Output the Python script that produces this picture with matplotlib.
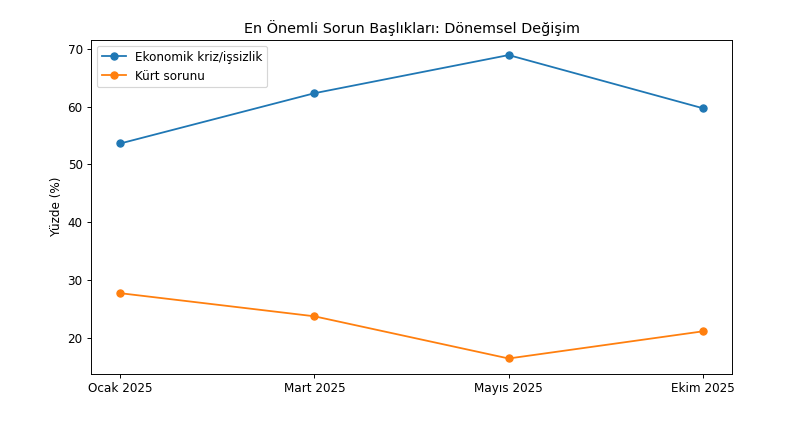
import matplotlib
matplotlib.use("Agg")
import matplotlib.pyplot as plt

donemler = ["Ocak 2025", "Mart 2025", "Mayıs 2025", "Ekim 2025"]
ekonomik = [53.6, 62.3, 68.9, 59.7]
kurt = [27.7, 23.7, 16.4, 21.1]

fig, ax = plt.subplots(figsize=(785 / 86, 429 / 86), dpi=86)
fig.subplots_adjust(left=0.116, right=0.9325, top=0.907, bottom=0.129)

ax.plot(donemler, ekonomik, marker='o', label='Ekonomik kriz/işsizlik')
ax.plot(donemler, kurt, marker='o', label='Kürt sorunu')

ax.set_title("En Önemli Sorun Başlıkları: Dönemsel Değişim")
ax.set_ylabel("Yüzde (%)")
ax.legend(loc='upper left')

fig.savefig("out.png", dpi=86)
